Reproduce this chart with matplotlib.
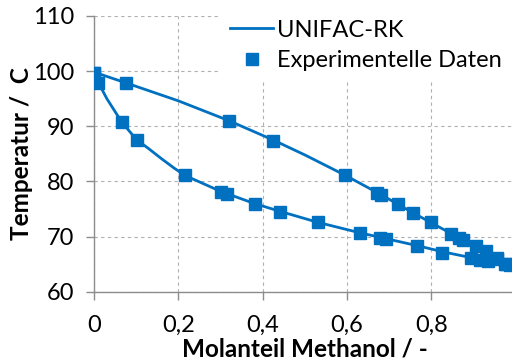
import matplotlib.pyplot as plt

# Siedelinie / Taulinie Methanol-Wasser (UNIFAC-RK Modell)
x_model_liq = [0.0, 0.01, 0.03, 0.065, 0.10, 0.13, 0.16, 0.19, 0.215, 0.30, 0.38, 0.44, 0.53,
               0.63, 0.70, 0.77, 0.83, 0.90, 0.95, 1.0]
t_model_liq = [99.8, 97.9, 95.0, 90.8, 87.6, 85.9, 84.1, 82.4, 81.1, 78.2, 76.0, 74.6, 72.6,
               70.7, 69.5, 68.3, 67.2, 66.1, 65.5, 64.7]
y_model_vap = [0.0, 0.074, 0.20, 0.32, 0.425, 0.50, 0.596, 0.676, 0.72, 0.757, 0.80, 0.846,
               0.87, 0.905, 0.93, 0.956, 0.98, 1.0]
t_model_vap = [99.8, 97.9, 94.6, 91.0, 87.5, 84.8, 81.1, 77.8, 75.9, 74.3, 72.5, 70.6,
               69.6, 68.3, 67.3, 66.2, 65.2, 64.7]

# Messwerte
x_exp_liq = [0.0, 0.0095, 0.065, 0.102, 0.215, 0.302, 0.315, 0.381, 0.442, 0.531,
             0.630, 0.678, 0.692, 0.767, 0.826, 0.895, 0.915, 0.935, 0.955, 0.978]
t_exp_liq = [99.6, 97.9, 90.8, 87.5, 81.1, 78.1, 77.8, 75.9, 74.4, 72.6,
             70.6, 69.8, 69.5, 68.3, 67.1, 66.1, 65.8, 65.6, 65.9, 65.0]
y_exp_vap = [0.0, 0.0745, 0.320, 0.425, 0.596, 0.672, 0.680, 0.721, 0.757, 0.800,
             0.846, 0.866, 0.876, 0.905, 0.929, 0.956, 0.974, 0.986]
t_exp_vap = [99.6, 97.9, 91.0, 87.4, 81.1, 77.9, 77.6, 75.9, 74.3, 72.6,
             70.5, 69.7, 69.3, 68.3, 67.3, 66.2, 65.1, 64.8]

x_ticks = [0, 0.2, 0.4, 0.6, 0.8, 1.0]
x_ticklabels = ['0', '0,2', '0,4', '0,6', '0,8', '1']
y_ticks = [60, 70, 80, 90, 100, 110]

blue = '#0070C0'
grey = '#8C8C8C'
fs = 17

plt.rcParams['font.family'] = ['Lato', 'DejaVu Sans']

fig = plt.figure(figsize=(5.12, 3.62), dpi=100)
ax = fig.add_axes([0.184, 0.194, 0.823, 0.762])

ax.plot(x_model_liq, t_model_liq, color=blue, lw=2.0, label='UNIFAC-RK', zorder=3)
ax.plot(y_model_vap, t_model_vap, color=blue, lw=2.0, zorder=3)
ax.plot(x_exp_liq, t_exp_liq, ls='none', marker='s', ms=8, color=blue,
        label='Experimentelle Daten', zorder=4)
ax.plot(y_exp_vap, t_exp_vap, ls='none', marker='s', ms=8, color=blue, zorder=4)

ax.set_xlim(0, 1)
ax.set_ylim(60, 110)
ax.set_xticks(x_ticks)
ax.set_xticklabels(x_ticklabels)
ax.set_yticks(y_ticks)

ax.grid(True, color='#B0B0B0', ls=(0, (3, 3)), lw=0.8)
ax.set_axisbelow(True)
for side in ['top', 'right']:
    ax.spines[side].set_visible(False)
for side in ['left', 'bottom']:
    ax.spines[side].set_color(grey)
    ax.spines[side].set_linewidth(1.0)
ax.tick_params(axis='both', direction='out', length=5.5, width=1.0, color=grey,
               labelsize=fs)
ax.tick_params(axis='x', pad=11)
ax.tick_params(axis='y', pad=9)

ax.set_xlabel('Molanteil Methanol / -', fontsize=17.5, fontweight='bold')
ax.set_ylabel('Temperatur /  C', fontsize=17.5, fontweight='bold')
ax.xaxis.set_label_coords(0.5, -0.165)
ax.yaxis.set_label_coords(-0.145, 0.5)

leg = ax.legend(loc='upper left', bbox_to_anchor=(0.428, 0.975),
                bbox_transform=fig.transFigure, fontsize=fs,
                frameon=True, facecolor='white', edgecolor='none', framealpha=1,
                handlelength=1.85, handletextpad=0.15, labelspacing=0.4,
                borderpad=0.45, borderaxespad=0.0, fancybox=False)

fig.savefig('out.png', dpi=100)
